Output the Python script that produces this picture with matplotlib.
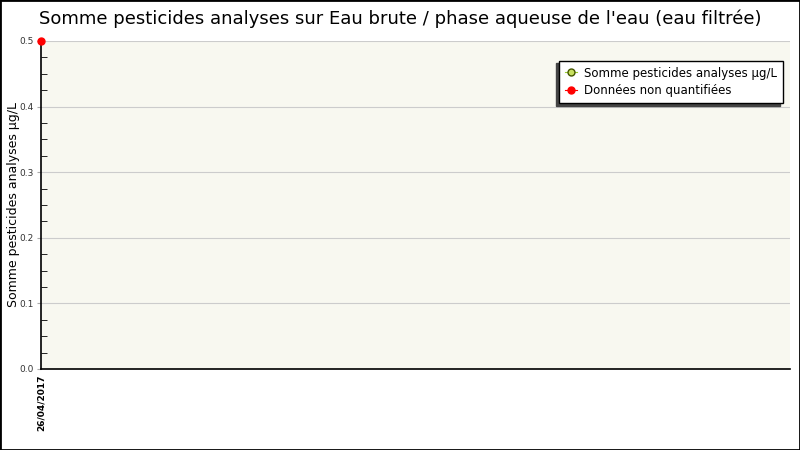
import matplotlib
matplotlib.use("Agg")
import matplotlib.pyplot as plt
from matplotlib.lines import Line2D
from matplotlib.patches import Rectangle
from matplotlib.ticker import MultipleLocator, FormatStrFormatter

# Données
dates = ["26/04/2017"]
valeurs = [0.5]
non_quantifiees = [True]

titre = "Somme pesticides analyses sur Eau brute / phase aqueuse de l'eau (eau filtrée)"
label_y = "Somme pesticides analyses µg/L"
label_serie = "Somme pesticides analyses µg/L"
label_nq = "Données non quantifiées"

fig = plt.figure(figsize=(8, 4.5), dpi=100)
fig.patches.append(Rectangle((0, 0), 1, 1, transform=fig.transFigure,
                             fill=False, edgecolor="black", linewidth=2))

ax = fig.add_axes([41 / 800, 81 / 450, 749 / 800, 328 / 450])
ax.set_facecolor("#f8f8f0")

x = list(range(len(dates)))
xq = [i for i, nq in zip(x, non_quantifiees) if nq]
yq = [v for v, nq in zip(valeurs, non_quantifiees) if nq]
ax.plot(xq, yq, "o", color="red", markersize=5, clip_on=False, zorder=5)

ax.set_xlim(0, 1)
ax.set_ylim(0, 0.5)
ax.set_xticks(x)
ax.set_xticklabels(dates, rotation=90, fontsize=6.5, fontweight="bold")
ax.yaxis.set_major_locator(MultipleLocator(0.1))
ax.yaxis.set_minor_locator(MultipleLocator(0.025))
ax.yaxis.set_major_formatter(FormatStrFormatter("%.1f"))
ax.tick_params(axis="y", which="major", labelsize=6.5, labelcolor="#333333",
               length=3, color="#aaaaaa", direction="out", pad=2)
ax.tick_params(axis="y", which="minor", length=4, direction="in", color="black")
ax.tick_params(axis="x", length=0, pad=4)
ax.grid(True, axis="y", color="#cccccc", linewidth=0.8)
ax.set_axisbelow(True)

for s in ["top", "right"]:
    ax.spines[s].set_visible(False)
ax.spines["left"].set_linewidth(1.2)
ax.spines["bottom"].set_linewidth(1.2)

fig.text(14 / 800, 0.545, label_y, rotation=90, ha="center", va="center",
         fontsize=9)
fig.text(0.5, 0.958, titre, ha="center", va="center", fontsize=13)

handles = [
    Line2D([0], [0], color="#9acd32", marker="o", markersize=5,
           markerfacecolor="#c8e060", markeredgecolor="#445500", linewidth=0.8),
    Line2D([0], [0], color="red", marker="o", markersize=5,
           markerfacecolor="red", markeredgecolor="red", linewidth=0.8),
]
leg = ax.legend(handles, [label_serie, label_nq], loc="upper right",
                bbox_to_anchor=(0.99, 0.94), fontsize=8.5, frameon=True,
                fancybox=False,
                shadow={"color": "#444444", "ox": -2, "oy": -2, "alpha": 1},
                handlelength=1.0, handletextpad=0.6, borderpad=0.5,
                labelspacing=0.4, borderaxespad=0)
leg.get_frame().set_edgecolor("black")
leg.get_frame().set_linewidth(1.0)
leg.get_frame().set_facecolor("white")

fig.savefig("out.png", dpi=100)
